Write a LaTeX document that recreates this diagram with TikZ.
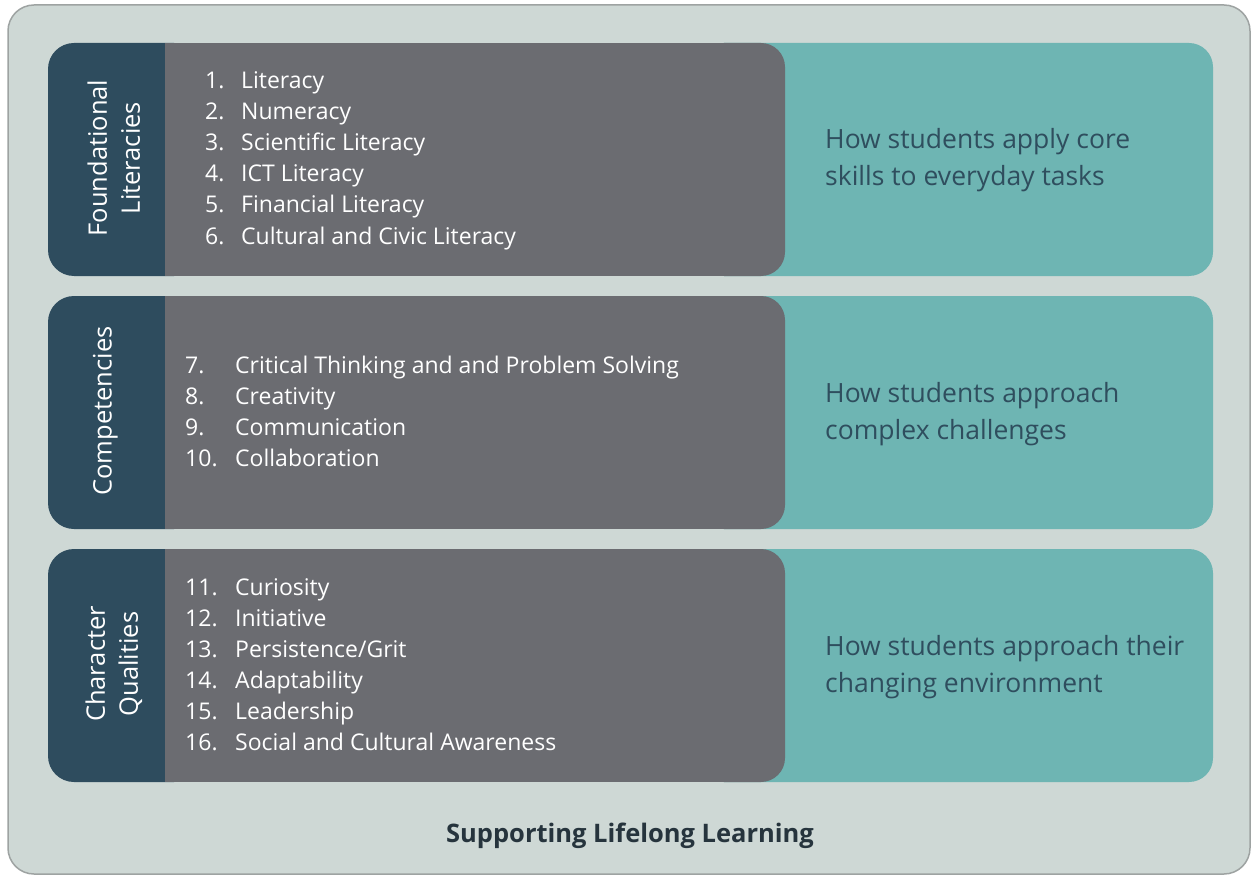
\documentclass[tikz,border=0pt]{standalone}
\usepackage{fontspec}
\setmainfont{Open Sans}
\definecolor{pagebg}{HTML}{CED8D5}
\definecolor{framec}{HTML}{9EA3A2}
\definecolor{navyc}{HTML}{2E4C5E}
\definecolor{slatec}{HTML}{6B6C71}
\definecolor{tealc}{HTML}{6EB5B3}
\definecolor{desctext}{HTML}{2F4E5E}
\definecolor{foottext}{HTML}{26343D}
\tikzset{
  item/.style={anchor=base west, inner sep=0pt, text=white,
    font=\fontsize{23}{31}\selectfont},
  % multi-line: base anchor sits on the last line
  desc/.style={anchor=base west, inner sep=0pt, text=desctext, align=left,
    font=\fontsize{26.5}{37}\selectfont},
  lab/.style={anchor=center, inner sep=0pt, text=white, align=center, rotate=90,
    font=\fontsize{25.5}{33}\selectfont},
  foot/.style={anchor=base, inner sep=0pt, text=foottext,
    font=\fontsize{25.5}{30}\selectfont\bfseries},
}
\begin{document}
\begin{tikzpicture}[x=1pt,y=-1pt]
\useasboundingbox (0,0) rectangle (1252,877);
\fill[white] (0,0) rectangle (1252,877);
% outer panel
\draw[fill=pagebg, draw=framec, line width=1.5pt, rounded corners=26pt] (8,5) rectangle (1250,874);
% three bands: teal summary, navy heading, slate list
\foreach \t in {43,296,549}{
  \fill[tealc, rounded corners=24pt] (700,\t) rectangle (1213,\t+233);
  \fill[navyc, rounded corners=26pt] (48,\t) rectangle (200,\t+233);
  \fill[slatec] (165,\t) rectangle (740,\t+233);
  \fill[slatec, rounded corners=24pt] (700,\t) rectangle (785,\t+233);
}
% headings
\node[lab] (hfound) at (113.8,158) {Foundational\\Literacies};
\node[lab] (hcomp) at (105.3,411) {Competencies};
\node[lab] (hchar) at (113.8,664) {Character\\Qualities};
% foundational literacies
\node[item] (i1) at (205,89) {\makebox[36pt][l]{1.}Literacy};
\node[item] (i2) at (205,120) {\makebox[36pt][l]{2.}Numeracy};
\node[item] (i3) at (205,151) {\makebox[36pt][l]{3.}Scientific Literacy};
\node[item] (i4) at (205,182) {\makebox[36pt][l]{4.}ICT Literacy};
\node[item] (i5) at (205,213) {\makebox[36pt][l]{5.}Financial Literacy};
\node[item] (i6) at (205,244) {\makebox[36pt][l]{6.}Cultural and Civic Literacy};
% competencies
\node[item] (i7) at (185,373) {\makebox[50pt][l]{7.}Critical Thinking and and Problem Solving};
\node[item] (i8) at (185,404) {\makebox[50pt][l]{8.}Creativity};
\node[item] (i9) at (185,435) {\makebox[50pt][l]{9.}Communication};
\node[item] (i10) at (185,466) {\makebox[50pt][l]{10.}Collaboration};
% character qualities
\node[item] (i11) at (185,595) {\makebox[50pt][l]{11.}Curiosity};
\node[item] (i12) at (185,626) {\makebox[50pt][l]{12.}Initiative};
\node[item] (i13) at (185,657) {\makebox[50pt][l]{13.}Persistence/Grit};
\node[item] (i14) at (185,688) {\makebox[50pt][l]{14.}Adaptability};
\node[item] (i15) at (185,719) {\makebox[50pt][l]{15.}Leadership};
\node[item] (i16) at (185,750) {\makebox[50pt][l]{16.}Social and Cultural Awareness};
% summaries
\node[desc] (dfound) at (825,186) {How students apply core\\skills to everyday tasks};
\node[desc] (dcomp) at (825,439) {How students approach\\complex challenges};
\node[desc] (dchar) at (825,692) {How students approach their\\changing environment};
% footer
\node[foot] (footer) at (630,842) {Supporting Lifelong Learning};
\end{tikzpicture}
\end{document}
